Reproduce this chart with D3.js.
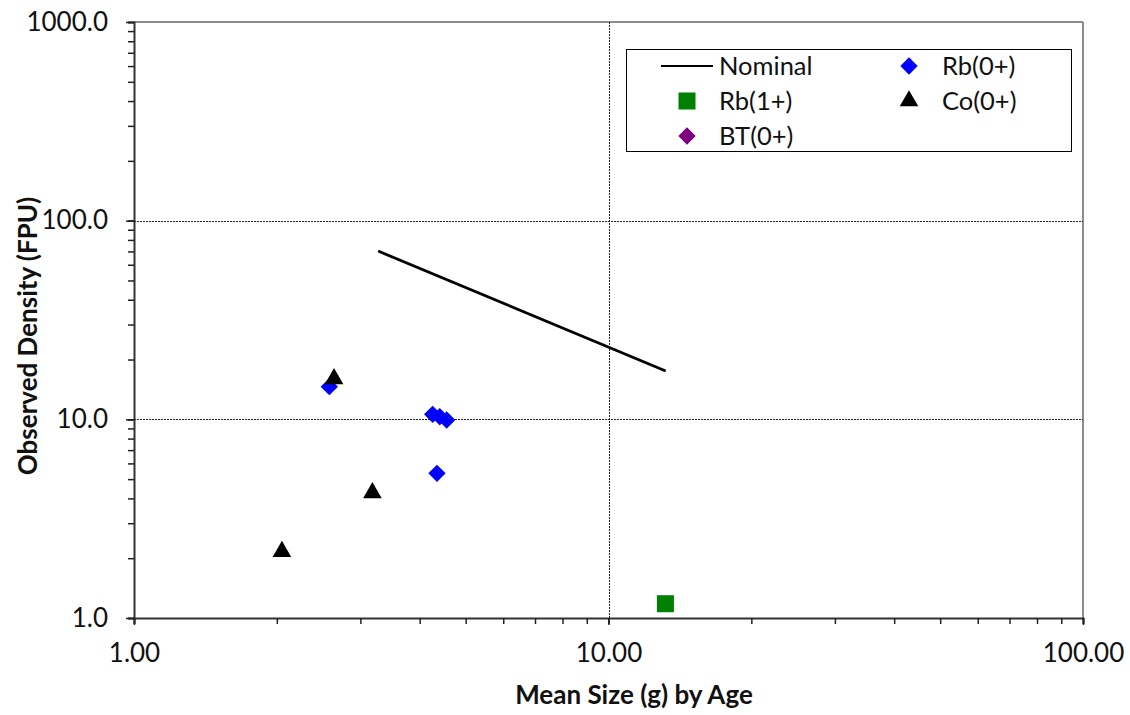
<!DOCTYPE html>
<html>
<head>
<meta charset="utf-8">
<script src="https://cdn.jsdelivr.net/npm/d3@7"></script>
<style>
  html, body { margin: 0; padding: 0; background: #fff; }
  svg { display: block; font-family: Lato, "Open Sans", sans-serif; }
</style>
</head>
<body>
<svg id="chart" width="1130" height="715"></svg>
<script>
// ---- data ----
const nominalX = [3.27, 13.2];
const nominalY = [70.3, 17.5];
const rb0X = [2.58, 4.26, 4.41, 4.56, 4.35];
const rb0Y = [14.6, 10.6, 10.3, 9.92, 5.35];
const rb1X = [13.18];
const rb1Y = [1.18];
const btX = [];
const btY = [];
const co0X = [2.64, 3.18, 2.05];
const co0Y = [16.0, 4.27, 2.16];
const xTickValues = [1, 10, 100];
const xTickLabels = ["1.00", "10.00", "100.00"];
const yTickValues = [1, 10, 100, 1000];
const yTickLabels = ["1.0", "10.0", "100.0", "1000.0"];
const legendNames = ["Nominal", "Rb(0+)", "Rb(1+)", "Co(0+)", "BT(0+)"];

// ---- layout ----
const svg = d3.select("#chart");
const L = 134, R = 1083, T = 22, B = 618;
const x = d3.scaleLog().domain([1, 100]).range([L, R]);
const y = d3.scaleLog().domain([1, 1000]).range([B, T]);

// minor ticks
const xMinor = [];
for (let d = 1; d < 100; d *= 10) for (let k = 1; k <= 10; k++) xMinor.push(d * k);
const yMinor = [];
for (let d = 1; d < 1000; d *= 10) for (let k = 1; k <= 10; k++) yMinor.push(d * k);

// plot border (grey top/right)
svg.append("line").attr("x1", L).attr("x2", R).attr("y1", T).attr("y2", T)
  .attr("stroke", "#8c8c8c").attr("stroke-width", 2);
svg.append("line").attr("x1", R).attr("x2", R).attr("y1", T).attr("y2", B)
  .attr("stroke", "#8c8c8c").attr("stroke-width", 2);

// gridlines
const grid = svg.append("g").attr("stroke", "#222").attr("stroke-width", 1).attr("stroke-dasharray", "2,1");
[10, 100].forEach(v => grid.append("line").attr("x1", L).attr("x2", R)
  .attr("y1", Math.round(y(v)) + 0.5).attr("y2", Math.round(y(v)) + 0.5));
[10].forEach(v => grid.append("line").attr("y1", T).attr("y2", B)
  .attr("x1", Math.round(x(v)) + 0.5).attr("x2", Math.round(x(v)) + 0.5));

// y axis
const yAxis = svg.append("g").attr("transform", `translate(${L},0)`)
  .call(d3.axisLeft(y).tickValues(yMinor).tickSize(6).tickFormat(""));
yAxis.select(".domain").attr("stroke", "#333").attr("stroke-width", 2);
yAxis.selectAll(".tick line").attr("stroke", "#222").attr("stroke-width", 1.5);
const yMaj = svg.append("g").attr("transform", `translate(${L},0)`)
  .call(d3.axisLeft(y).tickValues(yTickValues).tickSize(8)
    .tickFormat((d, i) => yTickLabels[i]).tickPadding(18));
yMaj.select(".domain").remove();
yMaj.selectAll(".tick line").attr("stroke", "#222").attr("stroke-width", 1.5);
yMaj.selectAll(".tick text").attr("font-size", 26).attr("fill", "#111")
  .attr("font-family", "Lato, sans-serif");

// x axis
const xAxis = svg.append("g").attr("transform", `translate(0,${B})`)
  .call(d3.axisBottom(x).tickValues(xMinor).tickSize(6).tickFormat(""));
xAxis.select(".domain").attr("stroke", "#333").attr("stroke-width", 2);
xAxis.selectAll(".tick line").attr("stroke", "#222").attr("stroke-width", 1.5);
const xMaj = svg.append("g").attr("transform", `translate(0,${B})`)
  .call(d3.axisBottom(x).tickValues(xTickValues).tickSize(7)
    .tickFormat((d, i) => xTickLabels[i]).tickPadding(19));
xMaj.select(".domain").remove();
xMaj.selectAll(".tick line").attr("stroke", "#222").attr("stroke-width", 1.5);
xMaj.selectAll(".tick text").attr("font-size", 26).attr("fill", "#111")
  .attr("font-family", "Lato, sans-serif");

// axis titles
svg.append("text").attr("x", 634).attr("y", 704).attr("text-anchor", "middle")
  .attr("font-size", 26).attr("font-weight", "bold").attr("fill", "#111")
  .text("Mean Size (g) by Age");
svg.append("text").attr("transform", "translate(37,336) rotate(-90)")
  .attr("text-anchor", "middle").attr("font-size", 26).attr("font-weight", "bold")
  .attr("fill", "#111").text("Observed Density (FPU)");

// nominal line
const nominal = nominalX.map((v, i) => [v, nominalY[i]]);
svg.append("path").datum(nominal)
  .attr("d", d3.line().x(d => x(d[0])).y(d => y(d[1])))
  .attr("fill", "none").attr("stroke", "#000").attr("stroke-width", 2.8);

const diamond = d3.symbol().type(d3.symbolSquare).size(150);
const square = d3.symbol().type(d3.symbolSquare).size(290);
const triangle = d3.symbol().type(d3.symbolTriangle).size(150);

function drawSeries(xs, ys, sym, fill, rot) {
  svg.append("g").selectAll("path").data(xs.map((v, i) => [v, ys[i]])).join("path")
    .attr("d", sym)
    .attr("transform", d => `translate(${x(d[0])},${y(d[1])}) rotate(${rot})`)
    .attr("fill", fill);
}
drawSeries(rb0X, rb0Y, diamond, "#0000ff", 45);
drawSeries(btX, btY, diamond, "#800080", 45);
drawSeries(rb1X, rb1Y, square, "#008000", 0);
drawSeries(co0X, co0Y, triangle, "#000000", 0);

// legend
const lg = svg.append("g");
lg.append("rect").attr("x", 626.5).attr("y", 49.5).attr("width", 445).attr("height", 102)
  .attr("fill", "#fff").attr("stroke", "#000").attr("stroke-width", 1);
const items = [
  {name: legendNames[0], kind: "line", mx: 687, my: 66, tx: 719},
  {name: legendNames[1], kind: "diamond", color: "#0000ff", mx: 909, my: 66, tx: 942},
  {name: legendNames[2], kind: "square", color: "#008000", mx: 687, my: 101, tx: 719},
  {name: legendNames[3], kind: "triangle", color: "#000", mx: 909, my: 101, tx: 942},
  {name: legendNames[4], kind: "diamond", color: "#800080", mx: 687, my: 136, tx: 719}
];
items.forEach(it => {
  if (it.kind === "line") {
    lg.append("line").attr("x1", 661).attr("x2", 713).attr("y1", it.my).attr("y2", it.my)
      .attr("stroke", "#000").attr("stroke-width", 2);
  } else {
    const sym = it.kind === "diamond" ? diamond : it.kind === "square" ? square : triangle;
    lg.append("path").attr("d", sym)
      .attr("transform", `translate(${it.mx},${it.my}) rotate(${it.kind === "diamond" ? 45 : 0})`)
      .attr("fill", it.color);
  }
  lg.append("text").attr("x", it.tx).attr("y", it.my).attr("dy", "0.36em")
    .attr("font-size", 25.5).attr("fill", "#111").text(it.name);
});
</script>
</body>
</html>
